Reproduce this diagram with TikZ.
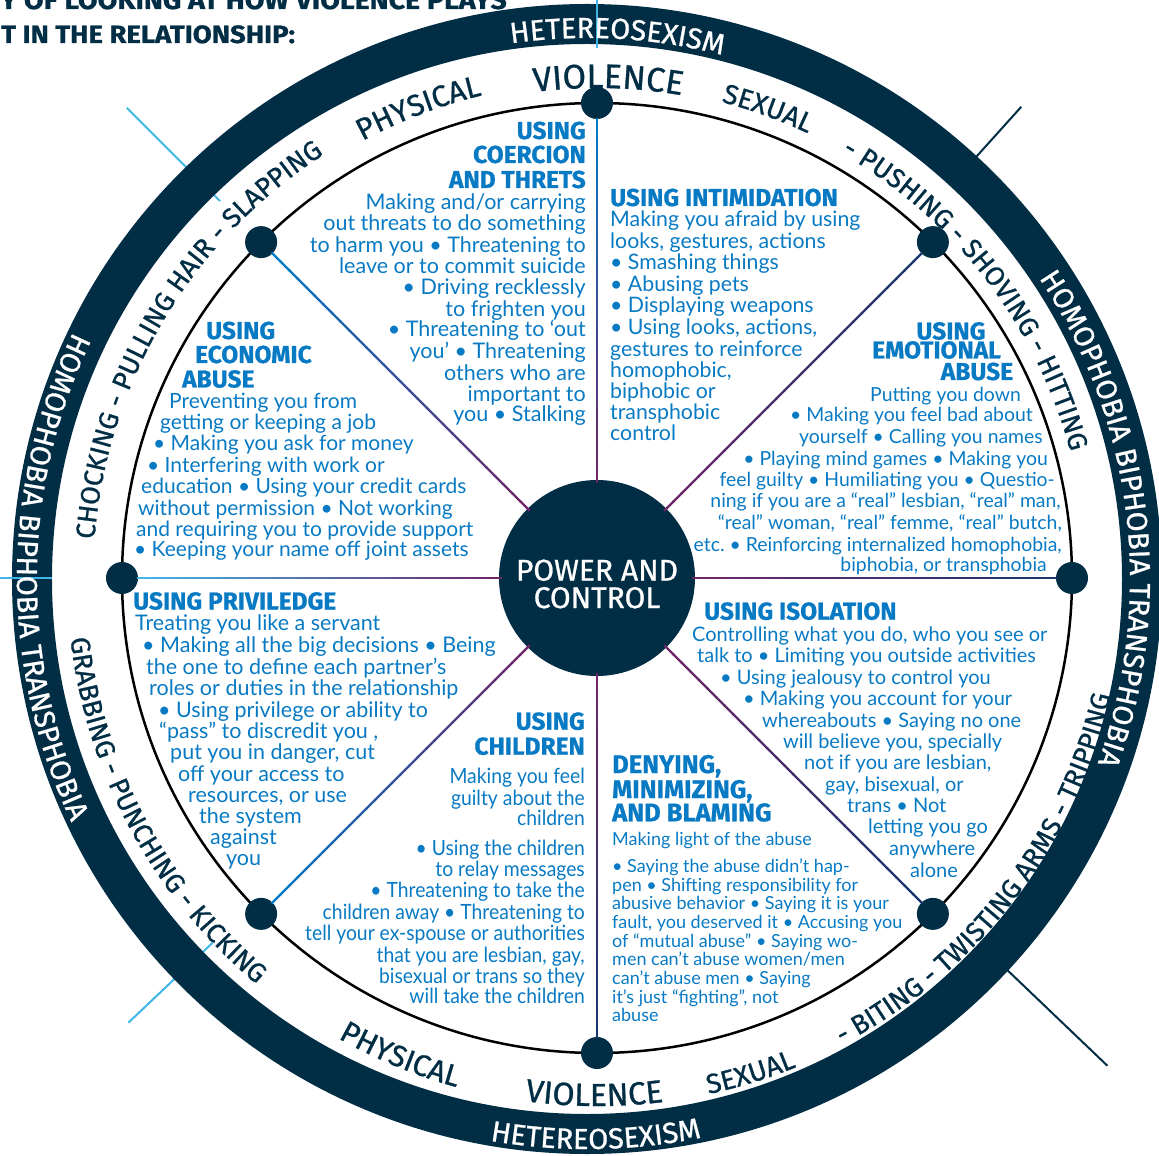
\documentclass[tikz,border=0pt]{standalone}
\usepackage{fontspec}
\setmainfont{Lato}
\newfontfamily\headfont{Fira Sans}[BoldFeatures={FakeBold=0.8}]
\newfontfamily\bandfont{Fira Sans}[FakeBold=0.9]
\newfontfamily\titlefont{Fira Sans}[BoldFeatures={FakeBold=0.8, FakeStretch=1.1}]
\newfontfamily\condfont{Lato}[FakeStretch=0.92]
\usetikzlibrary{calc, decorations.text}
\definecolor{navy}{RGB}{1,45,69}
\definecolor{textblue}{RGB}{8,122,196}
\definecolor{lineblue}{RGB}{64,182,230}
\definecolor{spokepurple}{RGB}{110,38,104}
\definecolor{spokeblue}{RGB}{0,122,200}
\definecolor{spokenavy}{RGB}{25,55,110}
\newcommand\ringfmt{\bandfont\fontsize{29}{29}\selectfont\color{white}}
\newcommand\bandfmt[1]{\bandfont\fontsize{#1}{#1}\selectfont\color{navy}}
\newcommand\arclabel[6]{%
  \path[decorate, decoration={text along path, text align=center, text={|#2|#6}}]
    ($(#1)+({#4+(#5)}:#3)$) arc[start angle={#4+(#5)}, end angle={#4-(#5)}, radius=#3];}
\tikzset{
  body/.style={font=\fontsize{#1}{22}\selectfont, text=textblue, inner sep=0pt},
  body/.default=20,
  smallbody/.style={font=\fontsize{18}{19}\selectfont, text=textblue, inner sep=0pt},
  condbody/.style={font=\condfont\fontsize{21}{22}\selectfont, text=textblue, inner sep=0pt},
  head/.style={font=\headfont\bfseries\fontsize{#1}{25}\selectfont, text=textblue, inner sep=0pt},
  head/.default=24.5,
  wheeldot/.style={circle, fill=navy, minimum size=32pt, inner sep=0pt},
  spoke/.style={line width=2.4pt},
  outline/.style={line width=2pt}
}
\frenchspacing
\begin{document}
\begin{tikzpicture}[x=1pt, y=1pt]
\useasboundingbox (-597,-578) rectangle (562,578);
\coordinate (rc) at (-10,-1);

\draw[outline, lineblue] (135:533) -- (135:665);
\draw[outline, navy] (48:530) -- (48:634);
\draw[outline, lineblue] (223.5:530) -- (223.5:646);
\draw[outline, navy] (316.3:530) -- (316.3:706);
\draw[navy, line width=40pt] (rc) circle[radius=555];
\draw[outline, lineblue] (0,580) -- (0,530);
\draw[outline, lineblue] (-600,0) -- (-545,0);
\draw[line width=2.5pt] (0,0) circle[radius=475];

\node[circle, fill=navy, minimum size=196pt, inner sep=0pt] (hub) at (0,0) {};
\node[font=\bandfont\fontsize{30}{27.5}\selectfont, text=white, align=center] (hub-label) at (0,-6) {POWER AND\\CONTROL};
\foreach \a/\d in {90/n, 45/ne, 0/e, -45/se, -90/s, -135/sw, 180/w, 135/nw}
  \node[wheeldot] (dot-\d) at (\a:475) {};
\foreach \d/\c in {n/spokeblue, ne/spokenavy, e/spokenavy, se/spokenavy, s/spokenavy, sw/spokeblue, w/lineblue, nw/spokeblue}
  \foreach \k in {0,...,29}{
    \pgfmathsetmacro\ta{0.2+\k*0.766/30}
    \pgfmathsetmacro\tb{\ta+0.766/30+0.003}
    \pgfmathtruncatemacro\p{100*\k/29}
    \draw[spoke, color=\c!\p!spokepurple] ($(hub.center)!\ta!(dot-\d.center)$) -- ($(hub.center)!\tb!(dot-\d.center)$);
  }

\arclabel{rc}{\ringfmt}{541}{86.8}{60}{HETEREOSEXISM}
\arclabel{rc}{\ringfmt}{570}{270.9}{-60}{HETEREOSEXISM}
\arclabel{rc}{\ringfmt}{570}{179.8}{-80}{HOMOPHOBIA BIPHOBIA TRANSPHOBIA}
\arclabel{rc}{\ringfmt}{543}{6.9}{80}{HOMOPHOBIA BIPHOBIA TRANSPHOBIA}
\arclabel{hub}{\bandfmt{30}}{496}{110.8}{60}{PHYSICAL}
\arclabel{hub}{\bandfmt{34}}{490}{88.7}{60}{VIOLENCE}
\arclabel{hub}{\bandfmt{27.5}}{492}{70}{60}{SEXUAL}
\arclabel{hub}{\bandfmt{27}}{490}{37.5}{70}{- PUSHING - SHOVING - HITTING}
\arclabel{hub}{\bandfmt{27}}{504}{149.2}{70}{CHOCKING - PULLING HAIR - SLAPPING}
\arclabel{hub}{\bandfmt{27}}{530}{208.3}{-70}{GRABBING - PUNCHING - KICKING}
\arclabel{hub}{\bandfmt{30}}{528}{247.6}{-60}{PHYSICAL}
\arclabel{hub}{\bandfmt{32}}{528}{269.7}{-60}{VIOLENCE}
\arclabel{hub}{\bandfmt{27.5}}{528}{287.2}{-60}{SEXUAL}
\arclabel{hub}{\bandfmt{27}}{527}{322.4}{-70}{- BITING - TWISTING ARMS - TRIPPING}

\node[font=\titlefont\bfseries\fontsize{26}{26}\selectfont, text=navy, anchor=base west, inner sep=0pt] (title-1) at (-597,569) {Y OF LOOKING AT HOW VIOLENCE PLAYS};
\node[font=\titlefont\bfseries\fontsize{25}{25}\selectfont, text=navy, anchor=base west, inner sep=0pt] (title-2) at (-596,535) {T IN THE RELATIONSHIP:};

\foreach \ly/\lt [count=\i] in {131/USING, 155/COERCION, 180/AND THRETS}
  \node[head, anchor=base east] (coer-head-\i) at (-11, 570-\ly) {\lt};
\foreach \ly/\lt [count=\i] in {202.7/{Making and/or carrying}, 224/out threats to do something, 245.7/to harm you • Threatening to, 266.7/leave or to commit suicide, 287.7/• Driving recklessly, 309.3/to frighten you, 330/• Threatening to ‘out, 351.7/you’ • Threatening, 373.3/others who are, 394.3/important to, 415/you • Stalking}
  \node[body=21.5, anchor=base east] (coer-\i) at (-11, 571-\ly) {\lt};

\node[head, anchor=base west] (intim-head) at (13, 570-198) {USING INTIMIDATION};
\foreach \ly/\lt [count=\i] in {220/Making you afraid by using, 241.7/{looks, gestures, actions}, 262.7/• Smashing things, 284.3/• Abusing pets, 306/• Displaying weapons, 327.3/{• Using looks, actions,}, 349.3/gestures to reinforce, 370.7/{homophobic,}, 391.7/biphobic or, 412.7/transphobic, 434/control}
  \node[body=21.3, anchor=base west] (intim-\i) at (13, 571-\ly) {\lt};

\foreach \lx/\ly/\lt [count=\i] in {951/331.5/USING, 936.5/350.5/EMOTIONAL, 977/372/ABUSE}
  \node[head, anchor=base] (emot-head-\i) at (\lx-597, 570-\ly) {\lt};
\foreach \lx/\ly/\lt [count=\i] in {1021/395/Putting you down, 1033/415/• Making you feel bad about, 1043/436.7/yourself • Calling you names, 1048/458.3/• Playing mind games • Making you, 1055/480/feel guilty • Humiliating you • Questio-, 1061/501/{ning if you are a “real” lesbian, “real” man,}, 1062/522.7/{“real” woman, “real” femme, “real” butch,}, 1062/544.3/{etc. • Reinforcing internalized homophobia,}, 1047/565/{biphobia, or transphobia}}
  \node[body=19.4, anchor=base east] (emot-\i) at (\lx-597, 571-\ly) {\lt};

\foreach \lx/\ly/\lt [count=\i] in {206/331/USING, 195/355/ECONOMIC, 182/379.5/ABUSE}
  \node[head, anchor=base west] (econ-head-\i) at (\lx-597, 570-\ly) {\lt};
\foreach \lx/\ly/\lt [count=\i] in {169/401.7/Preventing you from, 160/422.7/getting or keeping a job, 153/444/• Making you ask for money, 147/465.7/• Interfering with work or, 141/486.7/education • Using your credit cards, 138/508.3/without permission • Not working, 136/529.3/and requiring you to provide support, 134/550/• Keeping your name off joint assets}
  \node[body=21, anchor=base west] (econ-\i) at (\lx-597, 571-\ly) {\lt};

\node[head, anchor=base west] (priv-head) at (133-597, 570-601.5) {USING PRIVILEDGE};
\foreach \lx/\ly/\lt [count=\i] in {135/623.3/Treating you like a servant, 142/645.7/• Making all the big decisions • Being, 146/667.3/the one to define each partner’s, 149/688.3/roles or duties in the relationship, 158/710/• Using privilege or ability to, 159/731.7/{“pass” to discredit you ,}, 170/752.7/{put you in danger, cut}, 178/774/off your access to, 188/795/{resources, or use}, 199/816/the system, 210/837.3/against, 226/858.3/you}
  \node[body=21.5, anchor=base west] (priv-\i) at (\lx-597, 571-\ly) {\lt};

\foreach \ly/\lt [count=\i] in {721.7/USING, 746.7/CHILDREN}
  \node[head, anchor=base east] (child-head-\i) at (-12, 570-\ly) {\lt};
\foreach \ly/\lt [count=\i] in {776.7/Making you feel, 798.3/guilty about the, 818.3/children, 848.3/• Using the children, 869.3/to relay messages, 890.7/• Threatening to take the, 912.3/children away • Threatening to, 933.3/tell your ex-spouse or authorities, 955/{that you are lesbian, gay,}, 976.7/bisexual or trans so they, 996.7/will take the children}
  \node[condbody, anchor=base east] (child-\i) at (-12, 571-\ly) {\lt};

\node[head, anchor=base west] (isol-head) at (704-597, 570-611.7) {USING ISOLATION};
\foreach \lx/\ly/\lt [count=\i] in {692/634.3/{Controlling what you do, who you see or}, 697/655/talk to • Limiting you outside activities, 720/677.7/• Using jealousy to control you, 743/698.3/• Making you account for your, 762/720/whereabouts • Saying no one, 783/741.7/{will believe you, specially}, 804/762.7/{not if you are lesbian,}, 825/784/{gay, bisexual, or}, 847/805/trans • Not, 868/826.7/letting you go, 889/848.3/anywhere, 910/870/alone}
  \node[body, anchor=base west] (isol-\i) at (\lx-597, 571-\ly) {\lt};

\foreach \ly/\lt [count=\i] in {765/{DENYING,}, 790/{MINIMIZING,}, 813.3/AND BLAMING}
  \node[head=25.5, anchor=base west] (deny-head-\i) at (15, 570-\ly) {\lt};
\foreach \ly/\lt [count=\i] in {840/Making light of the abuse, 866.7/• Saying the abuse didn’t hap-, 886/pen • Shifting responsibility for, 904.3/abusive behavior • Saying it is your, 922.7/{fault, you deserved it • Accusing you}, 941.7/of “mutual abuse” • Saying wo-, 960/{men can’t abuse women/men}, 979.3/can’t abuse men • Saying, 997.7/{it’s just “fighting”, not}, 1016/abuse}
  \node[smallbody, anchor=base west] (deny-\i) at (15, 572.5-\ly) {\lt};
\end{tikzpicture}
\end{document}
